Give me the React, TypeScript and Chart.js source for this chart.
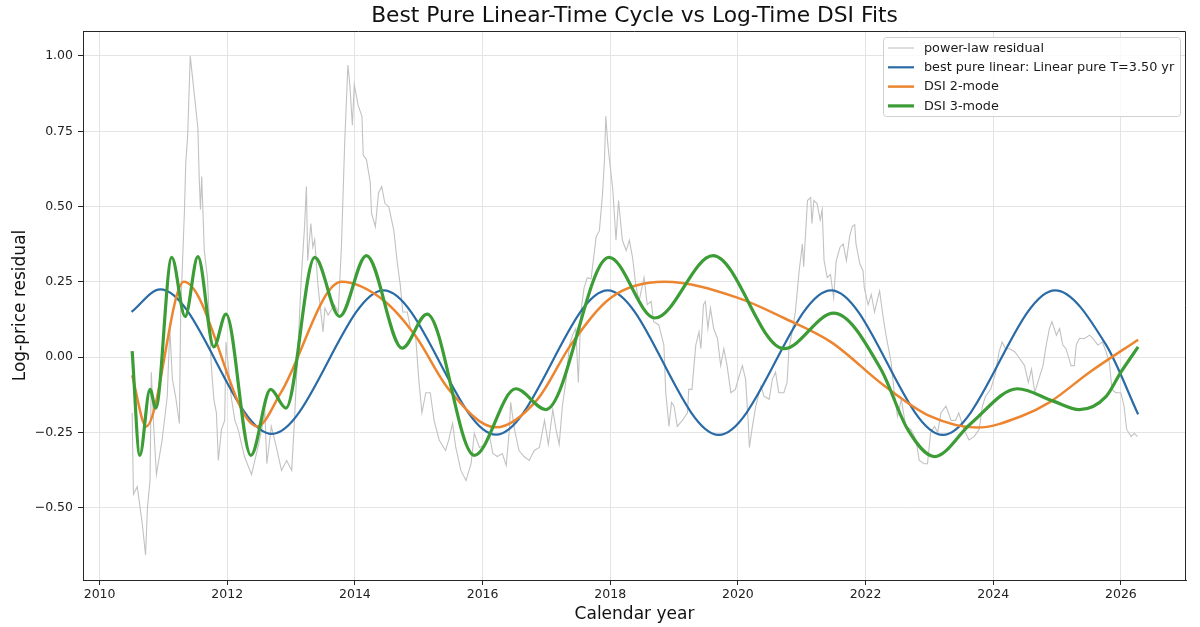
import React, { useEffect, useRef } from 'react';
import { Chart, registerables, type Plugin } from 'chart.js';

Chart.register(...registerables);

// power-law residual
const residYears = [
  2010.51, 2010.53, 2010.59, 2010.67, 2010.72, 2010.75, 2010.79, 2010.81, 2010.85, 2010.89,
  2010.98, 2011.06, 2011.10, 2011.14, 2011.19, 2011.25, 2011.27, 2011.33, 2011.35, 2011.38,
  2011.42, 2011.48, 2011.54, 2011.56, 2011.58, 2011.60, 2011.64, 2011.69, 2011.75, 2011.79,
  2011.83, 2011.86, 2011.91, 2011.96, 2011.98, 2012.01, 2012.06, 2012.12, 2012.17, 2012.27,
  2012.38, 2012.48, 2012.54, 2012.59, 2012.62, 2012.69, 2012.77, 2012.85, 2012.93, 2013.01,
  2013.05, 2013.11, 2013.16, 2013.21, 2013.24, 2013.26, 2013.31, 2013.34, 2013.37, 2013.42,
  2013.50, 2013.53, 2013.58, 2013.68, 2013.74, 2013.79, 2013.84, 2013.89, 2013.92, 2013.96,
  2013.99, 2014.05, 2014.11, 2014.13, 2014.18, 2014.24, 2014.26, 2014.32, 2014.37, 2014.42,
  2014.47, 2014.53, 2014.61, 2014.66, 2014.71, 2014.75, 2014.82, 2014.87, 2014.95, 2015.00,
  2015.05, 2015.11, 2015.18, 2015.24, 2015.32, 2015.42, 2015.47, 2015.53, 2015.58, 2015.66,
  2015.74, 2015.82, 2015.87, 2015.95, 2016.05, 2016.10, 2016.16, 2016.23, 2016.31, 2016.37,
  2016.42, 2016.44, 2016.50, 2016.57, 2016.65, 2016.73, 2016.81, 2016.89, 2016.97, 2017.03,
  2017.10, 2017.15, 2017.20, 2017.25, 2017.31, 2017.36, 2017.41, 2017.46, 2017.50, 2017.54,
  2017.59, 2017.64, 2017.70, 2017.78, 2017.83, 2017.88, 2017.91, 2017.93, 2017.96, 2017.98,
  2018.04, 2018.09, 2018.13, 2018.19, 2018.25, 2018.30, 2018.35, 2018.40, 2018.45, 2018.53,
  2018.58, 2018.64, 2018.68, 2018.76, 2018.84, 2018.87, 2018.92, 2018.96, 2019.00, 2019.05,
  2019.13, 2019.21, 2019.23, 2019.28, 2019.34, 2019.39, 2019.42, 2019.46, 2019.49, 2019.53,
  2019.57, 2019.62, 2019.68, 2019.73, 2019.78, 2019.83, 2019.89, 2019.96, 2020.02, 2020.07,
  2020.12, 2020.16, 2020.18, 2020.22, 2020.28, 2020.36, 2020.41, 2020.49, 2020.54, 2020.59,
  2020.64, 2020.72, 2020.77, 2020.80, 2020.85, 2020.90, 2020.96, 2021.01, 2021.03, 2021.09,
  2021.14, 2021.16, 2021.19, 2021.24, 2021.29, 2021.32, 2021.35, 2021.40, 2021.45, 2021.50,
  2021.54, 2021.60, 2021.65, 2021.70, 2021.75, 2021.79, 2021.83, 2021.85, 2021.91, 2021.96,
  2021.98, 2022.04, 2022.09, 2022.14, 2022.22, 2022.27, 2022.32, 2022.40, 2022.45, 2022.50,
  2022.56, 2022.63, 2022.71, 2022.79, 2022.84, 2022.92, 2022.97, 2023.02, 2023.08, 2023.13,
  2023.18, 2023.26, 2023.34, 2023.41, 2023.46, 2023.54, 2023.62, 2023.70, 2023.78, 2023.83,
  2023.88, 2023.96, 2024.04, 2024.09, 2024.14, 2024.19, 2024.26, 2024.34, 2024.42, 2024.49,
  2024.55, 2024.60, 2024.65, 2024.73, 2024.78, 2024.83, 2024.88, 2024.92, 2024.99, 2025.04,
  2025.09, 2025.14, 2025.22, 2025.27, 2025.30, 2025.35, 2025.43, 2025.51, 2025.56, 2025.64,
  2025.71, 2025.77, 2025.82, 2025.86, 2025.92, 2026.00, 2026.05, 2026.09, 2026.16, 2026.21,
  2026.26,
];
const residVals = [
  -0.185, -0.455, -0.43, -0.556, -0.657, -0.5, -0.41, -0.05, -0.24, -0.39,
  -0.275, -0.13, 0.095, -0.073, -0.13, -0.22, 0.15, 0.49, 0.646, 0.736,
  1.0, 0.88, 0.76, 0.6, 0.49, 0.6, 0.354, 0.264, -0.028, -0.14,
  -0.185, -0.343, -0.24, -0.21, 0.05, -0.017, -0.13, -0.21, -0.24, -0.33,
  -0.39, -0.3, -0.24, -0.185, -0.354, -0.23, -0.3, -0.376, -0.343, -0.376,
  -0.22, 0.04, 0.264, 0.43, 0.567, 0.32, 0.444, 0.365, 0.39, 0.24,
  0.084, 0.163, 0.14, 0.174, 0.15, 0.376, 0.713, 0.97, 0.905, 0.77,
  0.905, 0.837, 0.8, 0.67, 0.657, 0.58, 0.478, 0.433, 0.545, 0.567,
  0.51, 0.5, 0.42, 0.32, 0.24, 0.15, 0.15, 0.095, 0.073, -0.073,
  -0.185, -0.118, -0.118, -0.21, -0.275, -0.31, -0.275, -0.22, -0.3, -0.376,
  -0.41, -0.354, -0.253, -0.3, -0.29, -0.25, -0.32, -0.33, -0.32, -0.36,
  -0.24, -0.15, -0.24, -0.31, -0.33, -0.343, -0.31, -0.3, -0.21, -0.29,
  -0.174, -0.24, -0.29, -0.163, -0.073, 0.04, 0.073, 0.095, -0.084, 0.15,
  0.23, 0.264, 0.26, 0.4, 0.42, 0.545, 0.657, 0.8, 0.713, 0.67,
  0.556, 0.388, 0.52, 0.388, 0.354, 0.388, 0.33, 0.24, 0.185, 0.264,
  0.174, 0.185, 0.118, 0.107, 0.04, -0.118, -0.23, -0.15, -0.163, -0.23,
  -0.21, -0.185, -0.107, -0.107, 0.04, 0.084, 0.028, 0.174, 0.185, 0.095,
  0.163, 0.095, 0.062, -0.028, 0.028, -0.028, -0.118, -0.107, -0.062, -0.028,
  -0.073, -0.21, -0.3, -0.24, -0.163, -0.096, -0.13, -0.14, -0.073, -0.05,
  -0.118, -0.118, -0.084, 0.028, 0.084, 0.15, 0.287, 0.376, 0.3, 0.52,
  0.53, 0.444, 0.52, 0.51, 0.455, 0.49, 0.32, 0.264, 0.275, 0.197,
  0.32, 0.365, 0.376, 0.32, 0.4, 0.433, 0.44, 0.376, 0.31, 0.287,
  0.23, 0.174, 0.208, 0.15, 0.22, 0.14, 0.073, -0.017, -0.118, -0.197,
  -0.14, -0.23, -0.24, -0.275, -0.343, -0.354, -0.354, -0.25, -0.23, -0.25,
  -0.185, -0.163, -0.21, -0.21, -0.185, -0.24, -0.275, -0.264, -0.24, -0.163,
  -0.13, -0.107, -0.05, 0.017, 0.05, 0.028, 0.028, 0.017, -0.006, -0.028,
  -0.084, -0.04, -0.118, -0.062, -0.028, 0.04, 0.095, 0.118, 0.073, 0.095,
  0.04, 0.028, -0.028, -0.028, 0.04, 0.062, 0.062, 0.073, 0.062, 0.04,
  0.05, 0.017, -0.017, -0.107, -0.118, -0.118, -0.163, -0.24, -0.264, -0.253,
  -0.264,
];

// best pure linear-time cycle (T = 3.50 yr)
const linearYears = [2010.5, 2010.95, 2012.7, 2014.45, 2016.21, 2017.96, 2019.7, 2021.46, 2023.21, 2024.97, 2025.77, 2026.27];
const linearVals = [0.15, 0.225, -0.255, 0.222, -0.257, 0.222, -0.258, 0.222, -0.258, 0.222, 0.04, -0.19];

// DSI 2-mode
const dsi2Years = [
  2010.51, 2010.73, 2011.32, 2012.47, 2012.84, 2013.79, 2014.47, 2014.95, 2015.47, 2016.21,
  2016.86, 2017.38, 2018.01, 2018.85, 2020.0, 2020.72, 2021.46, 2022.3, 2023.02, 2023.75,
  2024.43, 2024.88, 2025.51, 2026.27,
];
const dsi2Vals = [
  -0.06, -0.23, 0.25, -0.23, -0.118, 0.25, 0.185, 0.07, -0.107, -0.233,
  -0.14, 0.04, 0.197, 0.25, 0.197, 0.13, 0.05, -0.096, -0.197, -0.234,
  -0.197, -0.15, -0.05, 0.058,
];

// DSI 3-mode
const dsi3Years = [
  2010.51, 2010.63, 2010.79, 2010.88, 2011.13, 2011.34, 2011.54, 2011.79, 2011.98, 2012.37,
  2012.68, 2012.92, 2013.37, 2013.76, 2014.18, 2014.74, 2015.13, 2015.87, 2016.52, 2016.99,
  2017.98, 2018.7, 2019.61, 2020.72, 2021.5, 2022.24, 2022.66, 2023.08, 2023.65, 2024.38,
  2024.94, 2025.35, 2025.77, 2026.0, 2026.27,
];
const dsi3Vals = [
  0.02, -0.326, -0.107, -0.169, 0.331, 0.135, 0.334, 0.034, 0.143, -0.326,
  -0.107, -0.169, 0.331, 0.135, 0.337, 0.03, 0.143, -0.326, -0.105, -0.174,
  0.331, 0.13, 0.337, 0.028, 0.146, -0.04, -0.24, -0.33, -0.22, -0.105,
  -0.146, -0.174, -0.13, -0.05, 0.034,
];

const xTicks = [2010, 2012, 2014, 2016, 2018, 2020, 2022, 2024, 2026];
const yTicks = [-0.5, -0.25, 0, 0.25, 0.5, 0.75, 1.0];

const TITLE = 'Best Pure Linear-Time Cycle vs Log-Time DSI Fits';
const FONT = 'DejaVu Sans';

const pts = (xs: number[], ys: number[]) => xs.map((x, i) => ({ x, y: ys[i] }));

// title centred over the axes (not the whole canvas), plus top/right spines
const framePlugin: Plugin = {
  id: 'frame',
  afterDraw(chart) {
    const { ctx, chartArea: a } = chart;
    ctx.save();
    ctx.strokeStyle = '#262626';
    ctx.lineWidth = 1;
    ctx.beginPath();
    ctx.moveTo(a.left, a.top + 0.5);
    ctx.lineTo(a.right - 0.5, a.top + 0.5);
    ctx.lineTo(a.right - 0.5, a.bottom);
    ctx.stroke();

    ctx.font = `21.8px "${FONT}"`;
    ctx.fillStyle = '#111';
    ctx.textAlign = 'center';
    ctx.textBaseline = 'alphabetic';
    ctx.fillText(TITLE, (a.left + a.right) / 2, a.top - 9);
    ctx.restore();
  },
};

// legend box in the upper right corner of the axes
const legendPlugin: Plugin = {
  id: 'boxLegend',
  afterDraw(chart) {
    const { ctx, chartArea: a } = chart;
    const right = a.right - 6;
    const top = a.top + 6;
    const w = 297;
    const h = 79;
    const left = right - w;
    ctx.save();
    ctx.beginPath();
    ctx.roundRect(left + 0.5, top + 0.5, w, h, 3);
    ctx.fillStyle = 'rgba(255,255,255,0.8)';
    ctx.fill();
    ctx.strokeStyle = '#d0d0d0';
    ctx.lineWidth = 1;
    ctx.stroke();
    ctx.font = `12.8px "${FONT}"`;
    ctx.textBaseline = 'middle';
    ctx.fillStyle = '#1a1a1a';
    chart.data.datasets.forEach((ds: any, i) => {
      const y = top + 11 + i * 19.3;
      ctx.strokeStyle = ds.borderColor;
      ctx.lineWidth = ds.borderWidth;
      ctx.beginPath();
      ctx.moveTo(left + 5, y);
      ctx.lineTo(left + 31, y);
      ctx.stroke();
      ctx.fillText(ds.label, left + 41, y + 0.5);
    });
    ctx.restore();
  },
};

export default function App() {
  const canvasRef = useRef<HTMLCanvasElement>(null);

  useEffect(() => {
    document.body.style.margin = '0';
    if (!canvasRef.current) return;
    Chart.defaults.font.family = FONT;

    const chart = new Chart(canvasRef.current, {
      type: 'line',
      data: {
        datasets: [
          {
            label: 'power-law residual',
            data: pts(residYears, residVals),
            borderColor: '#c2c2c2',
            borderWidth: 1.1,
            pointRadius: 0,
            tension: 0,
            order: 4,
          },
          {
            label: 'best pure linear: Linear pure T=3.50 yr',
            data: pts(linearYears, linearVals),
            borderColor: '#2a6ba6',
            borderWidth: 2.2,
            pointRadius: 0,
            cubicInterpolationMode: 'monotone',
            order: 3,
          },
          {
            label: 'DSI 2-mode',
            data: pts(dsi2Years, dsi2Vals),
            borderColor: '#ec8530',
            borderWidth: 2.5,
            pointRadius: 0,
            cubicInterpolationMode: 'monotone',
            order: 2,
          },
          {
            label: 'DSI 3-mode',
            data: pts(dsi3Years, dsi3Vals),
            borderColor: '#3c9c36',
            borderWidth: 3.2,
            pointRadius: 0,
            cubicInterpolationMode: 'monotone',
            order: 1,
          },
        ],
      },
      options: {
        responsive: false,
        animation: false,
        events: [],
        layout: { padding: { left: 0, right: 14, top: 31, bottom: 0 } },
        plugins: {
          legend: { display: false },
          tooltip: { enabled: false },
          title: { display: false },
        },
        scales: {
          x: {
            type: 'linear',
            min: 2009.74,
            max: 2027.02,
            afterFit: (s: any) => { s.height = 47; },
            afterBuildTicks: (s: any) => { s.ticks = xTicks.map(value => ({ value })); },
            grid: { color: '#e4e4e4', lineWidth: 1, drawTicks: true, tickLength: 5, tickColor: '#262626' },
            border: { display: true, color: '#262626', width: 1 },
            ticks: {
              color: '#222',
              font: { size: 12.5, family: FONT },
              padding: 2,
              maxRotation: 0,
              callback: v => String(v),
            },
            title: {
              display: true,
              text: 'Calendar year',
              color: '#111',
              font: { size: 17, family: FONT },
              padding: { top: 0, bottom: 2 },
            },
          },
          y: {
            type: 'linear',
            min: -0.74,
            max: 1.083,
            afterFit: (s: any) => { s.width = 83; },
            afterBuildTicks: (s: any) => { s.ticks = yTicks.map(value => ({ value })); },
            grid: { color: '#e4e4e4', lineWidth: 1, drawTicks: true, tickLength: 5, tickColor: '#262626' },
            border: { display: true, color: '#262626', width: 1 },
            ticks: {
              color: '#222',
              font: { size: 12.5, family: FONT },
              padding: 5,
              callback: v => {
                const n = Number(v);
                return n < 0 ? '\u2212' + Math.abs(n).toFixed(2) : n.toFixed(2);
              },
            },
            title: {
              display: true,
              text: 'Log-price residual',
              color: '#111',
              font: { size: 17, family: FONT },
              padding: { top: 10, bottom: 0 },
            },
          },
        },
      },
      plugins: [framePlugin, legendPlugin],
    });

    return () => { chart.destroy(); };
  }, []);

  return (
    <div style={{ width: 1200, height: 627, background: '#fff' }}>
      <canvas ref={canvasRef} width={1200} height={627} />
    </div>
  );
}
